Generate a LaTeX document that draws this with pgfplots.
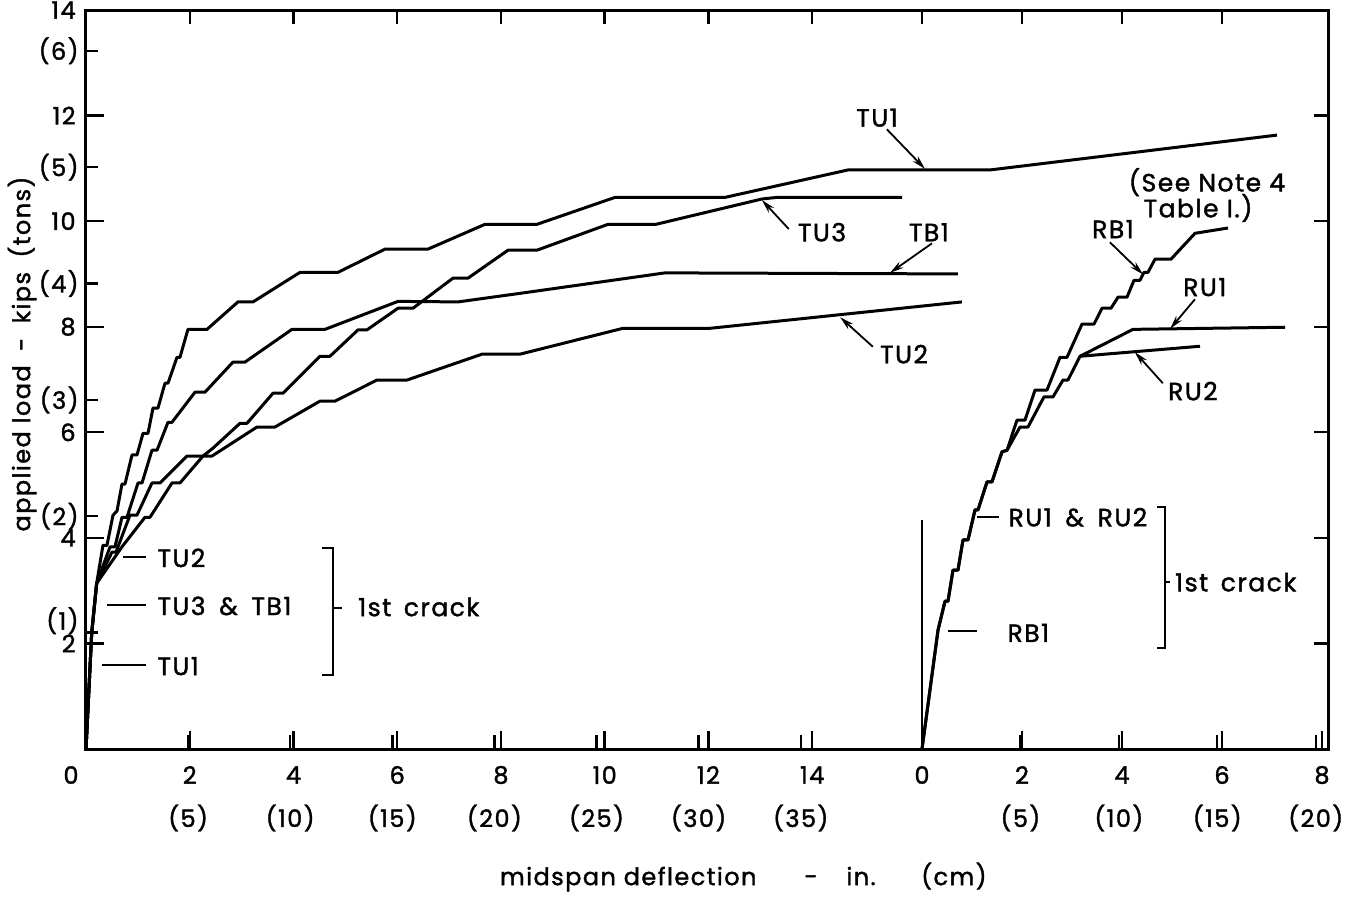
\documentclass[border=0pt]{standalone}
\usepackage{fontspec}
\setmainfont{Poppins}[LetterSpace=6, FakeBold=1.5]
\usepackage{pgfplots}
\pgfplotsset{compat=1.18}
\usetikzlibrary{arrows.meta}

\pgfplotsset{
  frame/.style={
    at={(0,0)}, anchor=south west, scale only axis,
    width=621pt, height=369.5pt, ymin=0, ymax=14, clip=false,
    tick align=inside, major tick length=9pt,
    every tick/.append style={black, line width=1.2pt},
    tick label style={font=\fontsize{12}{14}\selectfont},
  },
  curve/.style={black, line width=1.5pt, line join=round},
}

\begin{document}
\begin{tikzpicture}[
  ann/.style={font=\fontsize{12.5}{15}\selectfont, inner sep=0pt},
  arr/.style={line width=0.9pt, -{Stealth[length=7pt,width=3.6pt]}},
  crk/.style={line width=0.9pt},
]
\useasboundingbox (-43pt,-73.5pt) rectangle (636.5pt,374.5pt);

% left group (beams T..), also holds the frame and the left scale
\begin{axis}[frame,
  xmin=0, xmax=23.945,
  axis line style={line width=1.5pt},
  xtick pos=left, ytick pos=left,
  xtick={0,2,...,14},
  xticklabels={{\makebox[0pt]{\hspace{-15pt}0}},2,4,6,8,10,12,14},
  xticklabel style={anchor=center, yshift=-13pt},
  extra x ticks={1.9685,3.937,5.9055,7.874,9.8425,11.811,13.7795},
  extra x tick labels={(5),(10),(15),(20),(25),(30),(35)},
  extra x tick style={major tick length=7pt, xticklabel style={yshift=-21.5pt}},
  ytick={2,4,...,14},
  yticklabels={2,4,6,8,10,12,14},
  yticklabel style={anchor=east, inner sep=0pt, xshift=-5pt},
  extra y ticks={2.2046,4.4092,6.6139,8.8185,11.0231,13.2277},
  extra y tick labels={{\raisebox{1.5pt}[0pt][0pt]{(1)}},(2),(3),(4),(5),(6)},
  extra y tick style={major tick length=6pt, yticklabel style={xshift=1.5pt}},
  xlabel={midspan deflection\hspace{2em}-\hspace{1.2em}in.\hspace{1.9em}(cm)},
  xlabel style={at={(axis description cs:0.3277,-0.1732)}, anchor=west,
    font=\fontsize{12}{14}\selectfont},
  ylabel={applied load\hspace{0.6em}-\hspace{0.6em}kips\hspace{0.6em}(tons)},
  ylabel style={at={(axis description cs:-0.0515,0.5345)}, anchor=center,
    font=\fontsize{12}{14}\selectfont},
]
% TU1
\addplot[curve] coordinates {(0,0) (0.110,2.20) (0.206,3.14) (0.328,3.86) (0.405,3.86)
  (0.521,4.43) (0.598,4.51) (0.694,5.02) (0.752,5.02) (0.887,5.57) (0.983,5.57)
  (1.099,5.98) (1.195,5.98) (1.292,6.46) (1.388,6.46) (1.523,6.93) (1.581,6.93)
  (1.754,7.42) (1.812,7.42) (1.966,7.95) (2.333,7.95) (2.930,8.47) (3.220,8.47)
  (4.126,9.03) (4.858,9.03) (5.764,9.47) (6.593,9.47) (7.692,9.94) (8.695,9.94)
  (10.199,10.45) (12.319,10.45) (14.690,10.97) (17.428,10.97) (22.961,11.63)};
% TB1
\addplot[curve] coordinates {(0,0) (0.110,2.20) (0.206,3.14) (0.463,3.83) (0.559,3.83)
  (0.694,4.39) (0.790,4.39) (1.003,5.04) (1.080,5.04) (1.272,5.66) (1.369,5.66)
  (1.581,6.19) (1.658,6.19) (2.101,6.76) (2.294,6.76) (2.834,7.33) (3.065,7.33)
  (3.971,7.95) (4.608,7.95) (6.015,8.48) (7.172,8.47) (8.425,8.64) (11.163,9.02)
  (16.811,9.00)};
% TU2
\addplot[curve] coordinates {(0,0) (0.110,2.20) (0.206,3.14) (0.501,3.73) (0.578,3.73)
  (0.848,4.43) (0.983,4.43) (1.272,5.04) (1.427,5.04) (1.947,5.55) (2.429,5.55)
  (3.297,6.10) (3.644,6.10) (4.511,6.59) (4.800,6.59) (5.610,6.99) (6.189,6.99)
  (7.634,7.48) (8.367,7.48) (10.353,7.97) (12.030,7.97) (16.888,8.47)};
% TU3
\addplot[curve] coordinates {(0,0) (0.110,2.20) (0.206,3.14) (0.694,3.83) (1.137,4.39)
  (1.234,4.39) (1.658,5.04) (1.812,5.04) (2.256,5.55) (2.448,5.70) (2.969,6.17)
  (3.104,6.17) (3.605,6.74) (3.798,6.74) (4.511,7.44) (4.704,7.44) (5.244,7.94)
  (5.417,7.94) (6.015,8.35) (6.304,8.35) (7.075,8.92) (7.365,8.92) (8.136,9.45)
  (8.695,9.45) (10.064,9.94) (10.989,9.94) (13.033,10.42) (13.322,10.45) (15.732,10.45)};

% curve names
\node[ann] at (axis cs:15.25,11.96) {TU1};
\draw[arr] (axis cs:15.44,11.74) -- (axis cs:16.175,10.99);
\node[ann] at (axis cs:14.19,9.79) {TU3};
\draw[arr] (axis cs:13.55,9.85) -- (axis cs:13.03,10.40);
\node[ann] at (axis cs:16.25,9.79) {TB1};
\draw[arr] (axis cs:16.31,9.58) -- (axis cs:15.50,9.02);
\node[ann] at (axis cs:15.77,7.48) {TU2};
\draw[arr] (axis cs:15.17,7.62) -- (axis cs:14.54,8.18);
\node[ann] at (axis cs:19.80,9.85) {RB1};
\draw[arr] (axis cs:19.74,9.60) -- (axis cs:20.38,8.99);
\node[ann] at (axis cs:21.57,8.75) {RU1};
\draw[arr] (axis cs:21.38,8.52) -- (axis cs:20.90,7.96);
\node[ann] at (axis cs:21.34,6.78) {RU2};
\draw[arr] (axis cs:20.76,6.93) -- (axis cs:20.22,7.52);
\node[ann] at (axis cs:21.61,10.74) {(See Note 4};
\node[ann] at (axis cs:21.44,10.25) {Table I.)};

% first crack, left group
\draw[crk] (axis cs:0.713,3.64) -- (axis cs:1.157,3.64);
\node[ann, anchor=west] at (axis cs:1.369,3.62) {TU2};
\draw[crk] (axis cs:0.405,2.73) -- (axis cs:1.157,2.73);
\node[ann, anchor=west] at (axis cs:1.369,2.71) {TU3\hspace{0.55em}\&\hspace{0.55em}TB1};
\draw[crk] (axis cs:0.308,1.59) -- (axis cs:1.157,1.59);
\node[ann, anchor=west] at (axis cs:1.369,1.57) {TU1};
\draw[crk] (axis cs:4.55,3.81) -- (axis cs:4.76,3.81) -- (axis cs:4.76,1.40) -- (axis cs:4.55,1.40);
\draw[crk] (axis cs:4.76,2.67) -- (axis cs:4.94,2.67);
\node[ann, anchor=west] at (axis cs:5.24,2.69) {1st\hspace{0.5em}crack};

% first crack, right group
\draw[crk] (axis cs:17.18,4.39) -- (axis cs:17.60,4.39);
\node[ann, anchor=west] at (axis cs:17.78,4.39) {RU1\hspace{0.55em}\&\hspace{0.55em}RU2};
\draw[crk] (axis cs:16.62,2.23) -- (axis cs:17.18,2.23);
\node[ann, anchor=west] at (axis cs:17.76,2.20) {RB1};
\draw[crk] (axis cs:20.65,4.58) -- (axis cs:20.80,4.58) -- (axis cs:20.80,1.91) -- (axis cs:20.65,1.91);
\draw[crk] (axis cs:20.80,3.16) -- (axis cs:20.90,3.16);
\node[ann, anchor=west] at (axis cs:20.99,3.16) {1st\hspace{0.5em}crack};
\end{axis}

% right group (beams R..), own inch scale starting at its own zero
\begin{axis}[frame,
  xmin=-16.72, xmax=8.12,
  axis line style={draw=none},
  xtick pos=left, ytick pos=right,
  xtick={0,2,4,6,8}, xticklabels={0,2,4,6,8},
  xticklabel style={anchor=center, yshift=-13pt},
  extra x ticks={1.9685,3.937,5.9055,7.874},
  extra x tick labels={(5),(10),(15),(20)},
  extra x tick style={major tick length=7pt, xticklabel style={yshift=-21.5pt}},
  ytick={2,4,...,12}, yticklabels={},
  ytick style={/pgfplots/major tick length=7pt},
]
\addplot[black, line width=1.1pt] coordinates {(0,0) (0,4.34)};
% RB1
\addplot[curve] coordinates {(0,0) (0.32,2.25) (0.46,2.80) (0.52,2.80) (0.62,3.39)
  (0.72,3.39) (0.82,3.96) (0.92,3.96) (1.06,4.53) (1.12,4.53) (1.30,5.06) (1.40,5.06)
  (1.60,5.63) (1.70,5.66) (1.90,6.23) (2.06,6.23) (2.26,6.80) (2.50,6.80) (2.76,7.42)
  (2.90,7.42) (3.20,8.05) (3.44,8.05) (3.60,8.35) (3.78,8.35) (3.92,8.56) (4.10,8.56)
  (4.24,8.88) (4.36,8.88) (4.44,9.03) (4.52,9.03) (4.66,9.28) (4.98,9.28) (5.46,9.77)
  (6.12,9.87)};
% RU1
\addplot[curve] coordinates {(0,0) (0.32,2.25) (0.46,2.80) (0.52,2.80) (0.62,3.39)
  (0.72,3.39) (0.82,3.96) (0.92,3.96) (1.06,4.53) (1.12,4.53) (1.30,5.06) (1.40,5.06)
  (1.60,5.63) (1.70,5.66) (1.96,6.10) (2.12,6.10) (2.36,6.53) (2.44,6.67) (2.62,6.67)
  (2.82,6.99) (2.92,6.99) (3.16,7.44) (4.22,7.95) (7.26,7.99)};
% RU2
\addplot[curve] coordinates {(3.16,7.44) (5.56,7.63)};
\end{axis}

% top ticks
\begin{axis}[frame,
  xmin=0, xmax=23.945,
  axis line style={draw=none},
  xtick pos=right, major tick length=7pt,
  xtick={2,4,...,14,16.117,18.045,19.973,21.901}, xticklabels={},
  ytick=\empty,
]
\end{axis}
\end{tikzpicture}
\end{document}
